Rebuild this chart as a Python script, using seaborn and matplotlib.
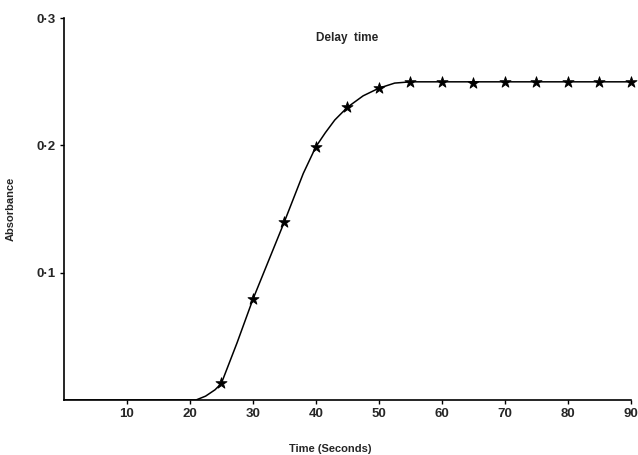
import matplotlib
matplotlib.use("Agg")
import matplotlib.pyplot as plt
import seaborn as sns
import pandas as pd

# measured points (stars)
timeSec = [25, 30, 35, 40, 45, 50, 55, 60, 65, 70, 75, 80, 85, 90]
absorb = [0.013, 0.079, 0.140, 0.199, 0.230, 0.245, 0.250, 0.250, 0.249, 0.250, 0.250, 0.250, 0.250, 0.250]

# hand drawn curve
curveX = [0, 21, 22.5, 24, 25, 27.5, 30, 35, 38, 40, 41.5, 43, 45, 47.5, 50, 52.5, 55, 90]
curveY = [0, 0, 0.003, 0.008, 0.013, 0.045, 0.079, 0.140, 0.178, 0.199, 0.210, 0.220, 0.230, 0.239, 0.245, 0.249, 0.250, 0.250]

yTicks = [0.1, 0.2, 0.3]
yTickLabels = ["0·1", "0·2", "0·3"]
xTicks = [10, 20, 30, 40, 50, 60, 70, 80, 90]

sns.set_style("ticks")
plt.rcParams['font.family'] = ['Liberation Sans', 'DejaVu Sans']

fig = plt.figure(figsize=(6.38, 4.55), dpi=100)
ax = fig.add_axes([0.100, 0.121, 0.889, 0.839])

curve = pd.DataFrame({"t": curveX, "a": curveY})
pts = pd.DataFrame({"t": timeSec, "a": absorb})
sns.lineplot(data=curve, x="t", y="a", color="black", linewidth=1.1, ax=ax)
sns.scatterplot(data=pts, x="t", y="a", marker="*", s=70, color="black",
                edgecolor="black", linewidth=0.6, ax=ax, zorder=5, clip_on=False)

ax.set_xlim(0, 90)
ax.set_ylim(0, 0.3)
ax.set_xticks(xTicks)
ax.set_xticklabels([str(v) for v in xTicks], fontsize=9.5, fontweight="bold")
ax.set_yticks(yTicks)
ax.set_yticklabels(yTickLabels, fontsize=9.5, fontweight="bold")
ax.tick_params(axis="both", length=3, width=1, color="black", pad=3)
sns.despine(ax=ax)
for s in ["left", "bottom"]:
    ax.spines[s].set_linewidth(1.2)
    ax.spines[s].set_color("black")

ax.set_xlabel("Time (Seconds)", fontsize=8, fontweight="bold")
ax.xaxis.set_label_coords(0.47, -0.115)
ax.set_ylabel("Absorbance", fontsize=8, fontweight="bold")
ax.yaxis.set_label_coords(-0.085, 0.5)
ax.text(0.5, 0.948, "Delay  time", transform=ax.transAxes, fontsize=8.5,
        fontweight="bold", ha="center", va="center")

fig.savefig("out.png", dpi=100)
